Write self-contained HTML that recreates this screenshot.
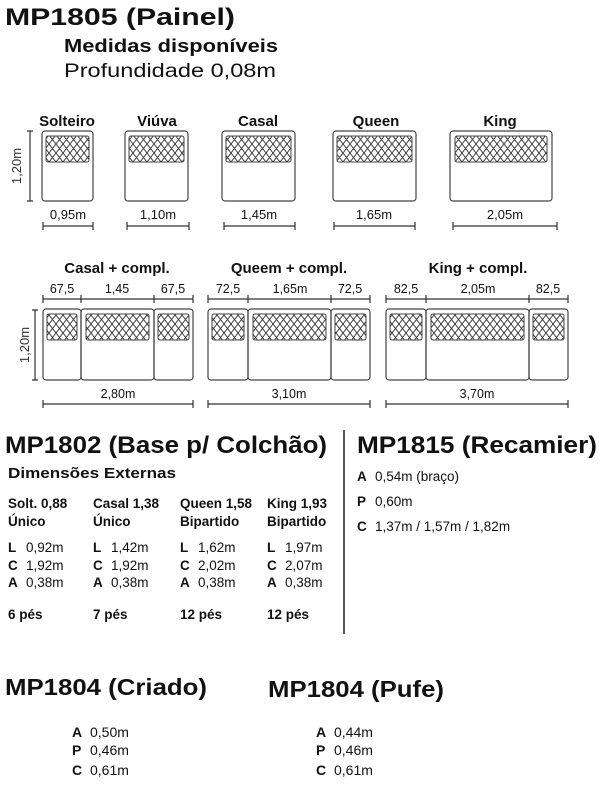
<!DOCTYPE html><html><head><meta charset="utf-8"><style>html,body{margin:0;padding:0;background:#fff}svg{display:block}text{font-family:"Liberation Sans",sans-serif;fill:#111}.b{font-weight:bold}.r{fill:#333}</style></head><body>
<svg width="600" height="800" viewBox="0 0 600 800" xmlns="http://www.w3.org/2000/svg">
<defs><pattern id="h" width="7" height="9" patternUnits="userSpaceOnUse"><path d="M0,0L7,9M7,0L0,9" stroke="#333" stroke-width="0.9"/></pattern></defs>
<text x="5" y="25" class="b" font-size="24" textLength="230" lengthAdjust="spacingAndGlyphs">MP1805 (Painel)</text>
<text x="64" y="52" class="b" font-size="18" textLength="214" lengthAdjust="spacingAndGlyphs">Medidas disponíveis</text>
<text x="64" y="77" font-size="19" textLength="212" lengthAdjust="spacingAndGlyphs">Profundidade 0,08m</text>
<g class="b" font-size="15" text-anchor="middle"><text x="67" y="126">Solteiro</text><text x="157" y="126">Viúva</text><text x="258" y="126">Casal</text><text x="376" y="126">Queen</text><text x="500" y="126">King</text></g>
<g fill="none" stroke="#444" stroke-width="1.2">
<rect x="42" y="131" width="51" height="70" rx="3"/><rect x="125" y="131" width="63" height="70" rx="3"/><rect x="222" y="131" width="73" height="70" rx="3"/><rect x="333" y="131" width="83" height="70" rx="3"/><rect x="450" y="131" width="102" height="70" rx="3"/>
</g>
<g fill="url(#h)" stroke="#444" stroke-width="1">
<rect x="46" y="136" width="43" height="26" rx="2"/><rect x="129" y="136" width="55" height="26" rx="2"/><rect x="226" y="136" width="65" height="26" rx="2"/><rect x="337" y="136" width="75" height="26" rx="2"/><rect x="455" y="136" width="92" height="26" rx="2"/>
</g>
<g stroke="#333" stroke-width="1.2" fill="none">
<path d="M30,131V201M27,131H33M27,201H33"/>
<path d="M43,226H93M43,222V230M93,222V230"/><path d="M127,226H189M127,222V230M189,222V230"/><path d="M224,226H295M224,222V230M295,222V230"/><path d="M334,226H415M334,222V230M415,222V230"/><path d="M453,226H557M453,222V230M557,222V230"/>
</g>
<text transform="translate(21,166) rotate(-90)" font-size="13" text-anchor="middle" class="r">1,20m</text>
<g font-size="13" text-anchor="middle" class="r"><text x="68" y="219">0,95m</text><text x="158" y="219">1,10m</text><text x="259" y="219">1,45m</text><text x="374" y="219">1,65m</text><text x="505" y="219">2,05m</text></g>

<g class="b" font-size="15" text-anchor="middle"><text x="117" y="273">Casal + compl.</text><text x="289" y="273">Queem + compl.</text><text x="478" y="273">King + compl.</text></g>
<g font-size="12.5" text-anchor="middle" class="r">
<text x="62" y="293">67,5</text><text x="117" y="293">1,45</text><text x="173" y="293">67,5</text>
<text x="228" y="293">72,5</text><text x="290" y="293">1,65m</text><text x="350" y="293">72,5</text>
<text x="406" y="293">82,5</text><text x="478" y="293">2,05m</text><text x="548" y="293">82,5</text>
<text x="118" y="398">2,80m</text><text x="289" y="398">3,10m</text><text x="477" y="398">3,70m</text>
</g>
<text transform="translate(29,345) rotate(-90)" font-size="13" text-anchor="middle" class="r">1,20m</text>
<g stroke="#333" stroke-width="1.2" fill="none">
<path d="M35,310V380M32,310H38M32,380H38"/>
<path d="M43,299H193M43,295V303M81,295V303M154,295V303M193,295V303"/>
<path d="M208,299H370M208,295V303M248,295V303M331,295V303M370,295V303"/>
<path d="M386,299H568M386,295V303M426,295V303M529,295V303M568,295V303"/>
<path d="M43,404H193M43,400V408M193,400V408"/><path d="M208,404H370M208,400V408M370,400V408"/><path d="M386,404H568M386,400V408M568,400V408"/>
</g>
<g fill="none" stroke="#444" stroke-width="1.2">
<rect x="43" y="309" width="38" height="71" rx="3"/><rect x="81" y="309" width="73" height="71" rx="3"/><rect x="154" y="309" width="39" height="71" rx="3"/>
<rect x="208" y="309" width="40" height="71" rx="3"/><rect x="248" y="309" width="83" height="71" rx="3"/><rect x="331" y="309" width="39" height="71" rx="3"/>
<rect x="386" y="309" width="40" height="71" rx="3"/><rect x="426" y="309" width="103" height="71" rx="3"/><rect x="529" y="309" width="39" height="71" rx="3"/>
</g>
<g fill="url(#h)" stroke="#444" stroke-width="1">
<rect x="47" y="314" width="30" height="26" rx="2"/><rect x="86" y="314" width="63" height="26" rx="2"/><rect x="158" y="314" width="31" height="26" rx="2"/>
<rect x="212" y="314" width="32" height="26" rx="2"/><rect x="253" y="314" width="73" height="26" rx="2"/><rect x="335" y="314" width="31" height="26" rx="2"/>
<rect x="390" y="314" width="32" height="26" rx="2"/><rect x="431" y="314" width="93" height="26" rx="2"/><rect x="533" y="314" width="31" height="26" rx="2"/>
</g>

<text x="5" y="453" class="b" font-size="24" textLength="322" lengthAdjust="spacingAndGlyphs">MP1802 (Base p/ Colchão)</text>
<text x="357" y="453" class="b" font-size="24" textLength="240" lengthAdjust="spacingAndGlyphs">MP1815 (Recamier)</text>
<path d="M344,430V634" stroke="#222" stroke-width="1.5"/>
<text x="8" y="478" class="b" font-size="15" textLength="168" lengthAdjust="spacingAndGlyphs">Dimensões Externas</text>
<g font-size="13.5">
<g class="b"><text x="8" y="508">Solt. 0,88</text><text x="93" y="508">Casal 1,38</text><text x="180" y="508">Queen 1,58</text><text x="267" y="508">King 1,93</text>
<text x="8" y="526">Único</text><text x="93" y="526">Único</text><text x="180" y="526">Bipartido</text><text x="267" y="526">Bipartido</text>
<text x="8" y="619">6 pés</text><text x="93" y="619">7 pés</text><text x="180" y="619">12 pés</text><text x="267" y="619">12 pés</text>
<text x="8" y="552">L</text><text x="8" y="570">C</text><text x="8" y="587">A</text>
<text x="93" y="552">L</text><text x="93" y="570">C</text><text x="93" y="587">A</text>
<text x="180" y="552">L</text><text x="180" y="570">C</text><text x="180" y="587">A</text>
<text x="267" y="552">L</text><text x="267" y="570">C</text><text x="267" y="587">A</text>
<text x="357" y="481">A</text><text x="357" y="506">P</text><text x="357" y="531">C</text>
</g>
<text x="26" y="552">0,92m</text><text x="26" y="570">1,92m</text><text x="26" y="587">0,38m</text>
<text x="111" y="552">1,42m</text><text x="111" y="570">1,92m</text><text x="111" y="587">0,38m</text>
<text x="198" y="552">1,62m</text><text x="198" y="570">2,02m</text><text x="198" y="587">0,38m</text>
<text x="285" y="552">1,97m</text><text x="285" y="570">2,07m</text><text x="285" y="587">0,38m</text>
<text x="375" y="481">0,54m (braço)</text><text x="375" y="506">0,60m</text><text x="375" y="531">1,37m / 1,57m / 1,82m</text>
</g>
<text x="5" y="695" class="b" font-size="23" textLength="202" lengthAdjust="spacingAndGlyphs">MP1804 (Criado)</text>
<text x="268" y="697" class="b" font-size="23" textLength="176" lengthAdjust="spacingAndGlyphs">MP1804 (Pufe)</text>
<g font-size="14">
<g class="b"><text x="72" y="737">A</text><text x="72" y="755">P</text><text x="72" y="775">C</text><text x="316" y="737">A</text><text x="316" y="755">P</text><text x="316" y="775">C</text></g>
<text x="90" y="737">0,50m</text><text x="90" y="755">0,46m</text><text x="90" y="775">0,61m</text>
<text x="334" y="737">0,44m</text><text x="334" y="755">0,46m</text><text x="334" y="775">0,61m</text>
</g>
</svg></body></html>
